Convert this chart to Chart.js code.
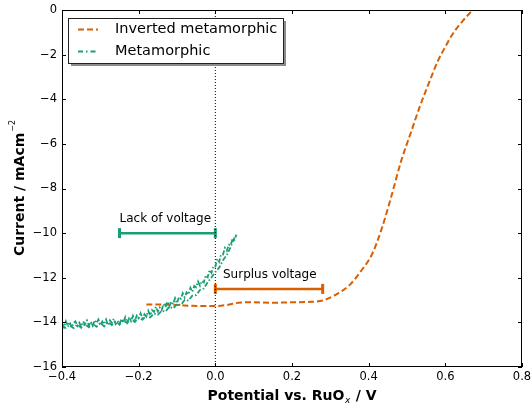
<!DOCTYPE html>
<html>
<head>
<title>Current vs potential</title>
<script src="https://cdn.jsdelivr.net/npm/chart.js"></script>
<style>
  body { margin: 0; background: #fff; }
  canvas { display: block; }
</style>
</head>
<body>
<canvas id="ivChart" width="532" height="405"></canvas>
<script>
// ---- data ----
const invertedX = [-0.18, -0.14, -0.10, -0.06, -0.03, 0.00, 0.03, 0.06, 0.10, 0.15, 0.20, 0.25, 0.28, 0.31,
  0.35, 0.38, 0.41, 0.435, 0.46, 0.485, 0.51, 0.535, 0.56, 0.58, 0.60, 0.62, 0.645, 0.67];
const invertedY = [-13.2, -13.2, -13.22, -13.26, -13.27, -13.27, -13.22, -13.12, -13.1, -13.12, -13.1, -13.08, -13.02, -12.8,
  -12.33, -11.7, -10.9, -9.75, -8.3, -6.75, -5.5, -4.25, -3.15, -2.3, -1.65, -1.05, -0.5, -0.02];

// forward sweep
const metaX = [-0.400, -0.395, -0.390, -0.385, -0.380, -0.375, -0.370, -0.365, -0.360, -0.355,
  -0.350, -0.345, -0.340, -0.335, -0.330, -0.325, -0.320, -0.315, -0.310, -0.305,
  -0.300, -0.295, -0.290, -0.285, -0.280, -0.275, -0.270, -0.265, -0.260, -0.255,
  -0.250, -0.245, -0.240, -0.235, -0.230, -0.225, -0.220, -0.215, -0.210, -0.205,
  -0.200, -0.195, -0.190, -0.185, -0.180, -0.175, -0.170, -0.165, -0.160, -0.155,
  -0.150, -0.145, -0.140, -0.135, -0.130, -0.125, -0.120, -0.115, -0.110, -0.105,
  -0.100, -0.095, -0.090, -0.085, -0.080, -0.075, -0.070, -0.065, -0.060, -0.055,
  -0.050, -0.045, -0.040, -0.035, -0.030, -0.025, -0.020, -0.015, -0.010, -0.005,
  0.000, 0.005, 0.010, 0.015, 0.020, 0.025, 0.030, 0.035, 0.040, 0.045, 0.050, 0.055];
const metaY = [-14.02, -14.22, -13.95, -14.15, -13.98, -14.23, -14.04, -13.95, -14.16, -14.01,
  -14.19, -13.96, -14.08, -13.91, -14.14, -13.97, -14.15, -13.91, -14.03, -13.87,
  -14.12, -13.96, -14.08, -13.87, -14.12, -13.91, -14.02, -13.84, -14.07, -13.94,
  -14.08, -13.84, -14.00, -13.77, -14.01, -13.82, -13.95, -13.71, -13.94, -13.70,
  -13.81, -13.59, -13.82, -13.63, -13.74, -13.48, -13.69, -13.45, -13.53, -13.30,
  -13.51, -13.33, -13.45, -13.18, -13.32, -13.07, -13.28, -13.07, -13.18, -12.92,
  -13.14, -12.86, -12.94, -12.69, -12.88, -12.66, -12.75, -12.45, -12.63, -12.37,
  -12.43, -12.17, -12.36, -12.14, -12.21, -11.89, -11.98, -11.65, -11.78, -11.48,
  -11.50, -11.16, -11.29, -10.95, -10.96, -10.66, -10.79, -10.52, -10.55, -10.24, -10.30, -10.07];

// return sweep
const metaBackX = [0.050, 0.040, 0.030, 0.020, 0.010, 0.000, -0.010, -0.020, -0.030, -0.040,
  -0.050, -0.060, -0.070, -0.080, -0.090, -0.100, -0.110, -0.120, -0.130, -0.140,
  -0.150, -0.160, -0.170, -0.180, -0.190, -0.200, -0.210, -0.220, -0.230, -0.240,
  -0.250, -0.260, -0.270, -0.280, -0.290, -0.300, -0.310, -0.320, -0.330, -0.340,
  -0.350, -0.360, -0.370, -0.380, -0.390, -0.400];
const metaBackY = [-10.20, -10.62, -10.98, -11.22, -11.55, -11.75, -11.98, -12.20, -12.48, -12.55,
  -12.78, -12.80, -13.02, -13.00, -13.22, -13.18, -13.38, -13.30, -13.52, -13.48,
  -13.66, -13.60, -13.78, -13.70, -13.88, -13.80, -13.98, -13.85, -14.02, -13.92,
  -14.10, -13.95, -14.12, -14.00, -14.18, -14.02, -14.20, -14.05, -14.22, -14.08,
  -14.24, -14.10, -14.26, -14.12, -14.25, -14.15];

// voltage gaps (error-bar style) and the RuOx reference line
const lackX = [-0.25, 0.0];
const lackY = [-10, -10];
const surplusX = [0.0, 0.28];
const surplusY = [-12.5, -12.5];
const refX = [0, 0];
const refY = [0, -16];

const xTicks = [-0.4, -0.2, 0.0, 0.2, 0.4, 0.6, 0.8];
const yTicks = [0, -2, -4, -6, -8, -10, -12, -14, -16];

const ORANGE = '#d95f02';
const GREEN = '#1b9e77';
const pts = (xs, ys) => xs.map((x, i) => ({ x: x, y: ys[i] }));
const minus = s => s.replace('-', '\u2212');

// inward ticks + frame, legend, labels
const decorations = {
  id: 'decorations',
  afterDraw(chart) {
    const ctx = chart.ctx;
    const a = chart.chartArea;
    const xs = chart.scales.x, ys = chart.scales.y;
    ctx.save();
    ctx.strokeStyle = '#000';
    ctx.lineWidth = 1;
    ctx.strokeRect(a.left + 0.5, a.top + 0.5, a.right - a.left - 1, a.bottom - a.top - 1);
    ctx.beginPath();
    xTicks.forEach(v => {
      const px = Math.round(xs.getPixelForValue(v)) + 0.5;
      ctx.moveTo(px, a.bottom); ctx.lineTo(px, a.bottom - 4);
      ctx.moveTo(px, a.top); ctx.lineTo(px, a.top + 4);
    });
    yTicks.forEach(v => {
      const py = Math.round(ys.getPixelForValue(v)) + 0.5;
      ctx.moveTo(a.left, py); ctx.lineTo(a.left + 4, py);
      ctx.moveTo(a.right, py); ctx.lineTo(a.right - 4, py);
    });
    ctx.stroke();

    // annotation texts
    ctx.fillStyle = '#000';
    ctx.font = '12px "DejaVu Sans"';
    ctx.textBaseline = 'alphabetic';
    ctx.textAlign = 'left';
    ctx.fillText('Lack of voltage', xs.getPixelForValue(-0.25), ys.getPixelForValue(-9.5));
    ctx.fillText('Surplus voltage', xs.getPixelForValue(0.02), ys.getPixelForValue(-12.0));

    // legend
    const lx = 68, ly = 18, lw = 215, lh = 45;
    ctx.fillStyle = '#8c8c8c';
    ctx.fillRect(lx + 3, ly + 3, lw, lh);
    ctx.fillStyle = '#fff';
    ctx.fillRect(lx, ly, lw, lh);
    ctx.strokeStyle = '#222';
    ctx.strokeRect(lx + 0.5, ly + 0.5, lw, lh);
    ctx.lineWidth = 2;
    ctx.strokeStyle = ORANGE;
    ctx.setLineDash([6, 3]);
    ctx.beginPath(); ctx.moveTo(78, 29.5); ctx.lineTo(98, 29.5); ctx.stroke();
    ctx.strokeStyle = GREEN;
    ctx.setLineDash([5, 3, 1.5, 3]);
    ctx.beginPath(); ctx.moveTo(78, 51.5); ctx.lineTo(98, 51.5); ctx.stroke();
    ctx.setLineDash([]);
    ctx.fillStyle = '#000';
    ctx.font = '14.5px "DejaVu Sans"';
    ctx.textBaseline = 'middle';
    ctx.fillText('Inverted metamorphic', 115, 29.5);
    ctx.fillText('Metamorphic', 115, 51.5);

    // x axis title with subscript
    ctx.textBaseline = 'alphabetic';
    const p1 = 'Potential vs. RuO', p2 = ' / V';
    ctx.font = 'italic 9px "DejaVu Sans"';
    const wSub = ctx.measureText('x').width + 1;
    ctx.font = 'bold 14px "DejaVu Sans"';
    const w1 = ctx.measureText(p1).width, w2 = ctx.measureText(p2).width;
    const tx = (a.left + a.right) / 2 - (w1 + wSub + w2) / 2;
    const tyBase = 400;
    ctx.fillText(p1, tx, tyBase);
    ctx.font = 'italic 9px "DejaVu Sans"';
    ctx.fillText('x', tx + w1 + 0.5, tyBase + 3);
    ctx.font = 'bold 14px "DejaVu Sans"';
    ctx.fillText(p2, tx + w1 + wSub, tyBase);

    // y axis title with superscript
    ctx.translate(24, (a.top + a.bottom) / 2);
    ctx.rotate(-Math.PI / 2);
    const q1 = 'Current / mAcm';
    const w3 = ctx.measureText(q1).width;
    ctx.font = '8px "DejaVu Sans"';
    const wSup = ctx.measureText('\u22122').width;
    ctx.font = 'bold 14px "DejaVu Sans"';
    const sx = -(w3 + wSup) / 2;
    ctx.fillText(q1, sx, 0);
    ctx.font = '8px "DejaVu Sans"';
    ctx.fillText('\u22122', sx + w3 + 1, -9);
    ctx.restore();
  }
};

const metaStyle = {
  showLine: true,
  borderColor: GREEN,
  borderWidth: 1.8,
  borderDash: [5, 2, 1.5, 2],
  pointRadius: 0,
  tension: 0
};

new Chart(document.getElementById('ivChart'), {
  type: 'scatter',
  data: {
    datasets: [
      Object.assign({ label: 'Metamorphic', data: pts(metaX, metaY) }, metaStyle),
      Object.assign({ label: 'Metamorphic (return)', data: pts(metaBackX, metaBackY) }, metaStyle),
      {
        label: 'Inverted metamorphic',
        data: pts(invertedX, invertedY),
        showLine: true,
        borderColor: ORANGE,
        borderWidth: 2,
        borderDash: [6, 3],
        pointRadius: 0,
        cubicInterpolationMode: 'monotone'
      },
      {
        label: 'ref',
        data: pts(refX, refY),
        showLine: true,
        borderColor: '#000',
        borderWidth: 1,
        borderDash: [1, 2],
        pointRadius: 0
      },
      {
        label: 'Lack of voltage',
        data: pts(lackX, lackY),
        showLine: true,
        borderColor: GREEN,
        backgroundColor: GREEN,
        borderWidth: 2.5,
        pointStyle: 'line',
        rotation: 90,
        pointRadius: 5,
        pointBorderWidth: 3,
        pointBorderColor: GREEN
      },
      {
        label: 'Surplus voltage',
        data: pts(surplusX, surplusY),
        showLine: true,
        borderColor: ORANGE,
        backgroundColor: ORANGE,
        borderWidth: 2.5,
        pointStyle: 'line',
        rotation: 90,
        pointRadius: 5,
        pointBorderWidth: 3,
        pointBorderColor: ORANGE
      }
    ]
  },
  options: {
    responsive: false,
    animation: false,
    layout: { padding: { top: 10, right: 10, left: 0, bottom: 0 } },
    plugins: { legend: { display: false }, tooltip: { enabled: false } },
    scales: {
      x: {
        type: 'linear',
        min: -0.4, max: 0.8,
        afterBuildTicks: s => { s.ticks = xTicks.map(v => ({ value: v })); },
        afterFit: s => { s.height = 38; s.paddingLeft = 0; s.paddingRight = 0; },
        grid: { display: false, drawTicks: false },
        border: { display: false },
        ticks: {
          padding: 3,
          color: '#000',
          font: { family: 'DejaVu Sans', size: 11.5 },
          maxRotation: 0,
          callback: v => minus(v.toFixed(1))
        }
      },
      y: {
        type: 'linear',
        min: -16, max: 0,
        afterBuildTicks: s => { s.ticks = yTicks.map(v => ({ value: v })); },
        afterFit: s => { s.width = 62; s.paddingTop = 0; s.paddingBottom = 0; },
        grid: { display: false, drawTicks: false },
        border: { display: false },
        ticks: {
          padding: 5,
          color: '#000',
          font: { family: 'DejaVu Sans', size: 11.5 },
          callback: v => minus(String(v))
        }
      }
    }
  },
  plugins: [decorations]
});
</script>
</body>
</html>
